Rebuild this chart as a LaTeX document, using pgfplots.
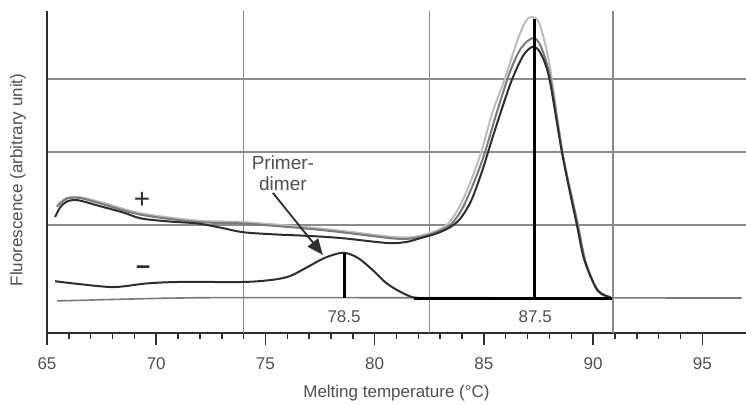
\documentclass[border=0pt]{standalone}
\usepackage{fontspec}
\setmainfont{Liberation Sans}
\usepackage{pgfplots}
\pgfplotsset{compat=1.18}
\usetikzlibrary{arrows.meta}

\definecolor{txt}{HTML}{505050}
\definecolor{gridc}{HTML}{8C8C8C}
\definecolor{darkc}{HTML}{2E2E2E}
\definecolor{midc}{HTML}{7A7A7A}
\definecolor{lightc}{HTML}{BDBDBD}

\begin{document}
\begin{tikzpicture}
\begin{axis}[
  scale only axis,
  width=699pt, height=322pt,
  xmin=65, xmax=97,
  ymin=-0.479, ymax=3.93,
  axis x line=bottom, axis y line=left,
  axis line style={-, draw=darkc, line width=1.6pt},
  xtick={65,70,...,95},
  minor x tick num=4,
  tick align=outside,
  major tick length=12pt, minor tick length=6pt,
  x tick style={draw=darkc, line width=1.5pt},
  ytick={1,2,3}, yticklabels={},
  y tick style={draw=none},
  extra x ticks={74,82.5,90.9},
  extra x tick labels={},
  extra x tick style={grid=major, major tick length=0pt},
  ymajorgrids,
  major grid style={draw=gridc, line width=1.5pt},
  tick label style={font=\fontsize{17}{20}\selectfont, text=txt},
  xticklabel style={yshift=-9pt},
  /pgf/number format/assume math mode=true,
  label style={font=\fontsize{17}{20}\selectfont, text=txt},
  xlabel={Melting temperature (°C)},
  ylabel={Fluorescence (arbitrary unit)},
  xlabel style={at={(axis description cs:0.5,-0.186)}, anchor=center},
  ylabel style={at={(axis description cs:-0.0415,0.475)}, anchor=center},
  clip=false,
]
% baseline of the negative controls
\addplot[midc, line width=1.6pt, smooth] coordinates {
(65.45,-0.04) (68,-0.02) (71,0.0) (75,0.005) (96.8,0.0)};
% lightest + curve
\addplot[lightc, line width=2pt, smooth] coordinates {
(65.5,1.28) (65.9,1.37) (66.5,1.38) (67.5,1.31) (69.3,1.16) (71.9,1.06)
(74,1.04) (76.9,0.97) (78.5,0.92) (80.7,0.84) (81.5,0.83) (82.2,0.86)
(82.9,0.93) (83.4,1.03) (83.9,1.26) (84.4,1.6) (84.9,2.02) (85.4,2.55)
(85.96,3.0) (86.5,3.5) (86.9,3.78) (87.2,3.85) (87.55,3.75) (88.0,3.2)
(88.6,2.0) (89.3,1.02) (89.65,0.5) (90.2,0.1) (90.8,0.01)};
% mid + curve
\addplot[midc, line width=2pt, smooth] coordinates {
(65.45,1.25) (65.9,1.36) (66.5,1.37) (67.5,1.29) (69.3,1.14) (71.9,1.04)
(74,1.02) (76.9,0.95) (78.5,0.90) (80.7,0.82) (81.5,0.81) (82.2,0.84)
(82.9,0.91) (83.5,1.01) (84.0,1.22) (84.5,1.55) (85,1.95) (85.6,2.55)
(86.2,3.1) (86.7,3.42) (87.24,3.56) (87.6,3.45) (88.05,3.0) (88.65,1.9)
(89.3,1.0) (89.65,0.5) (90.2,0.1) (90.8,0.01)};
% dark + curve
\addplot[darkc, line width=2pt, smooth] coordinates {
(65.37,1.11) (65.6,1.24) (65.9,1.32) (66.4,1.34) (67.4,1.26) (68.5,1.17)
(69.3,1.09) (70.5,1.05) (71.9,1.02) (73,0.96) (74,0.90) (75.5,0.87)
(77,0.85) (78.5,0.82) (80,0.77) (80.8,0.75) (81.5,0.77) (82.1,0.82)
(82.8,0.88) (83.4,0.96) (83.9,1.08) (84.4,1.32) (84.9,1.72) (85.4,2.2)
(85.9,2.66) (86.3,3.0) (86.8,3.32) (87.24,3.44) (87.6,3.35) (88.0,3.0)
(88.6,1.95) (89.25,1.01) (89.6,0.52) (90.2,0.11) (90.8,0.01)};
% dark - curve with primer-dimer peak
\addplot[darkc, line width=2pt, smooth] coordinates {
(65.37,0.23) (66.5,0.19) (68.07,0.15) (69.58,0.2) (71.09,0.22)
(74.02,0.22) (75.34,0.25) (76.12,0.30) (76.9,0.42) (77.72,0.55)
(78.55,0.62) (79.23,0.55) (79.92,0.38) (80.47,0.22) (81.02,0.11)
(81.75,0.01) (82.53,0.0) (86,0.0)};
% melting point markers
\addplot[black, line width=3pt] coordinates {(81.8,0) (90.85,0)};
\addplot[black, line width=3pt] coordinates {(78.6,0) (78.6,0.62)};
\addplot[black, line width=3pt] coordinates {(87.3,0) (87.3,3.82)};

\node[text=txt, font=\fontsize{17}{20}\selectfont] at (axis cs:78.6,-0.26) {78.5};
\node[text=txt, font=\fontsize{17}{20}\selectfont] at (axis cs:87.35,-0.26) {87.5};
\node[text=darkc, font=\fontsize{28}{30}\selectfont] at (axis cs:69.35,1.33) {+};
\node[text=darkc, font=\fontsize{25}{28}\bfseries] at (axis cs:69.4,0.38) {−};
\node[text=txt, font=\fontsize{19}{21}\selectfont, align=center] at (axis cs:75.8,1.71) {Primer-\\dimer};
\draw[darkc, line width=1.8pt, -{Triangle[length=16pt,width=13pt]}]
  (axis cs:75.34,1.44) -- (axis cs:77.63,0.59);
\end{axis}
\pgfresetboundingbox
\path (-47pt,-71pt) rectangle (699pt,333pt);
\end{tikzpicture}
\end{document}
